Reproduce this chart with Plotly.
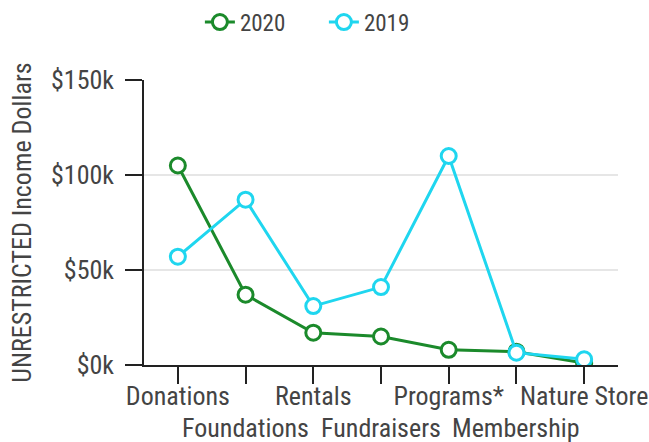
import plotly.graph_objects as go

categories = ["Donations", "Foundations", "Rentals", "Fundraisers", "Programs*", "Membership", "Nature Store"]
values_2020 = [105000, 37000, 17000, 15000, 8000, 7000, 1000]
values_2019 = [57000, 87000, 31000, 41000, 110000, 6500, 3000]
y_ticks = [0, 50000, 100000, 150000]
y_tick_labels = ["$0k", "$50k", "$100k", "$150k"]

FONT = "Roboto Condensed, Liberation Sans Narrow, Roboto, sans-serif"
GREEN = "#1b8a2b"
CYAN = "#1fd6ef"
FS = 26

fig = go.Figure()
fig.add_trace(go.Scatter(
    x=categories, y=values_2020, name="2020", mode="lines+markers",
    line=dict(color=GREEN, width=3),
    marker=dict(symbol="circle", size=15, color="white", line=dict(width=3, color=GREEN)),
))
fig.add_trace(go.Scatter(
    x=categories, y=values_2019, name="2019", mode="lines+markers",
    line=dict(color=CYAN, width=3),
    marker=dict(symbol="circle", size=15, color="white", line=dict(width=3, color=CYAN)),
))

# staggered category labels: even ones as tick labels, odd ones on a second row
row1_text = [c if i % 2 == 0 else "" for i, c in enumerate(categories)]
for i, c in enumerate(categories):
    if i % 2 == 1:
        fig.add_annotation(
            x=c, xref="x", y=0, yref="paper", yanchor="middle", yshift=-63,
            text=c, showarrow=False, font=dict(size=FS, color="#444", family=FONT),
        )

fig.update_layout(
    width=649, height=442,
    margin=dict(l=144, r=31, t=80, b=77, autoexpand=False),
    paper_bgcolor="white", plot_bgcolor="white",
    font=dict(family=FONT, color="#444", size=FS),
    legend=dict(orientation="h", xref="container", yref="container",
                x=0.308, xanchor="left", y=0.95, yanchor="middle",
                font=dict(size=23, color="#444"), itemwidth=30, entrywidth=79),
    xaxis=dict(
        type="category", range=[-0.5, 6.5], automargin=False,
        tickvals=categories, ticktext=row1_text, tickangle=0,
        ticks="outside", ticklen=17, tickcolor="#222", tickwidth=1.5, ticklabelstandoff=-10,
        showline=True, linecolor="#222", linewidth=1.5,
        showgrid=False, tickfont=dict(size=FS, color="#444"),
    ),
    yaxis=dict(
        range=[0, 150000], tickvals=y_ticks, ticktext=y_tick_labels, automargin=False,
        ticks="outside", ticklen=17, tickcolor="#222", tickwidth=1.5, ticklabelstandoff=6,
        showline=True, linecolor="#222", linewidth=1.5,
        showgrid=True, gridcolor="#e6e6e6", gridwidth=1.5, zeroline=False,
        tickfont=dict(size=FS, color="#444"),
        title=dict(text="UNRESTRICTED Income Dollars", font=dict(size=FS, color="#444"), standoff=12),
    ),
)

fig.write_html("out.html", config={"displayModeBar": False},
               post_script="document.body.style.margin='0';document.body.style.padding='0';")
